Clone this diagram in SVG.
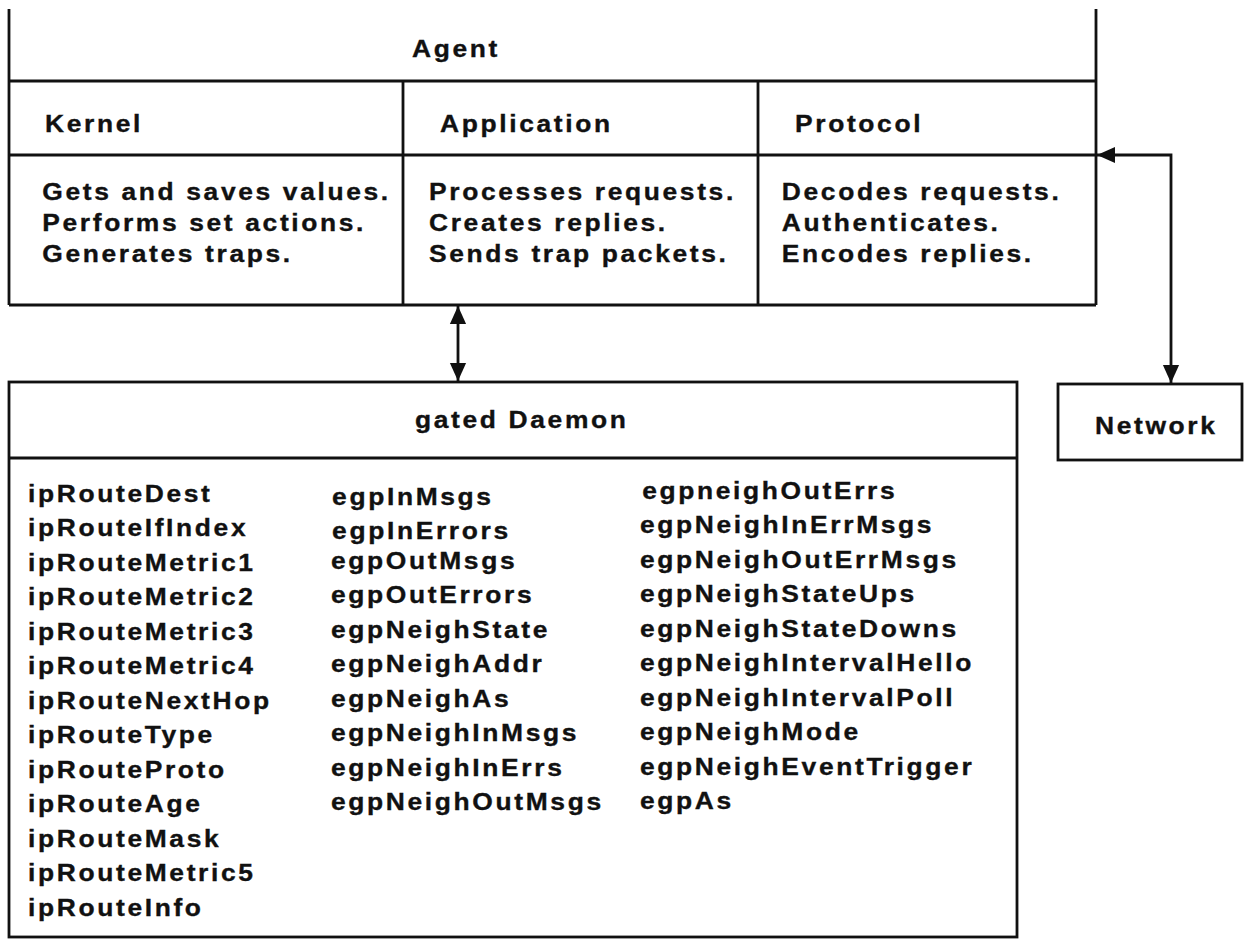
<svg xmlns="http://www.w3.org/2000/svg" width="1245" height="940" viewBox="0 0 1245 940">
<style>
.ln{stroke:#111;stroke-width:2.8;fill:none}
.bx{stroke:#111;stroke-width:2.8;fill:#fff}
text{font-family:"Liberation Sans",Arial,Helvetica,sans-serif;font-weight:bold;font-size:24px;fill:#111;stroke:#111;stroke-width:0.35;letter-spacing:2.4px}
.cn{stroke:#111;stroke-width:2.8;fill:none}
</style>
<defs>
<marker id="ah" viewBox="0 0 10 10" refX="10" refY="5" markerWidth="19" markerHeight="18" markerUnits="userSpaceOnUse" orient="auto-start-reverse">
<path d="M0,0.5 L10,5 L0,9.5 z" fill="#111"/>
</marker>
</defs>
<rect width="1245" height="940" fill="#fff"/>

<g id="agent">
<path class="ln" d="M9,9 V305 M1096,9 V305 M9,81 H1096 M9,155 H1096 M9,305 H1096 M403,81 V305 M758,81 V305"/>
<g transform="translate(412,0) scale(1.1,1)"><text x="0" y="57">Agent</text></g>
<g id="kernel" transform="translate(45,0) scale(1.1,1)">
<text x="0" y="132">Kernel</text>
<text x="-2.5" y="200">Gets and saves values.</text>
<text x="-2.5" y="231">Performs set actions.</text>
<text x="-2.5" y="262">Generates traps.</text>
</g>
<g id="application" transform="translate(440,0) scale(1.1,1)">
<text x="0" y="132">Application</text>
<text x="-10" y="200">Processes requests.</text>
<text x="-10" y="231">Creates replies.</text>
<text x="-10" y="262">Sends trap packets.</text>
</g>
<g id="protocol" transform="translate(795,0) scale(1.1,1)">
<text x="0" y="132">Protocol</text>
<text x="-12" y="200">Decodes requests.</text>
<text x="-12" y="231">Authenticates.</text>
<text x="-12" y="262">Encodes replies.</text>
</g>
</g>

<g id="daemon">
<rect class="bx" x="9" y="382" width="1008" height="555"/>
<path class="ln" d="M9,458 H1017"/>
<g transform="translate(415,0) scale(1.1,1)"><text x="0" y="428">gated Daemon</text></g>
<g transform="translate(28,0) scale(1.1,1)">
<text x="0" y="502">ipRouteDest</text>
<text x="0" y="536.5">ipRouteIfIndex</text>
<text x="0" y="571">ipRouteMetric1</text>
<text x="0" y="605.5">ipRouteMetric2</text>
<text x="0" y="640">ipRouteMetric3</text>
<text x="0" y="674.5">ipRouteMetric4</text>
<text x="0" y="709">ipRouteNextHop</text>
<text x="0" y="743.5">ipRouteType</text>
<text x="0" y="778">ipRouteProto</text>
<text x="0" y="812.5">ipRouteAge</text>
<text x="0" y="847">ipRouteMask</text>
<text x="0" y="881.5">ipRouteMetric5</text>
<text x="0" y="916">ipRouteInfo</text>
</g>
<g transform="translate(331,0) scale(1.1,1)">
<text x="1" y="505">egpInMsgs</text>
<text x="1" y="539">egpInErrors</text>
<text x="0" y="569">egpOutMsgs</text>
<text x="0" y="603">egpOutErrors</text>
<text x="0" y="638">egpNeighState</text>
<text x="0" y="672">egpNeighAddr</text>
<text x="0" y="707">egpNeighAs</text>
<text x="0" y="741">egpNeighInMsgs</text>
<text x="0" y="776">egpNeighInErrs</text>
<text x="0" y="810">egpNeighOutMsgs</text>
</g>
<g transform="translate(640,0) scale(1.1,1)">
<text x="2" y="499">egpneighOutErrs</text>
<text x="0" y="533.5">egpNeighInErrMsgs</text>
<text x="0" y="568">egpNeighOutErrMsgs</text>
<text x="0" y="602.5">egpNeighStateUps</text>
<text x="0" y="637">egpNeighStateDowns</text>
<text x="0" y="671.5">egpNeighIntervalHello</text>
<text x="0" y="706">egpNeighIntervalPoll</text>
<text x="0" y="740.5">egpNeighMode</text>
<text x="0" y="775">egpNeighEventTrigger</text>
<text x="0" y="809.5">egpAs</text>
</g>
</g>

<g id="network">
<rect class="bx" x="1058" y="384" width="184" height="76"/>
<g transform="translate(1095,0) scale(1.1,1)"><text x="0" y="434">Network</text></g>
</g>

<g id="connectors">
<path class="cn" d="M458,306 V381" marker-start="url(#ah)" marker-end="url(#ah)"/>
<path class="cn" d="M1097,155 H1171 V383" marker-start="url(#ah)" marker-end="url(#ah)"/>
</g>
</svg>
